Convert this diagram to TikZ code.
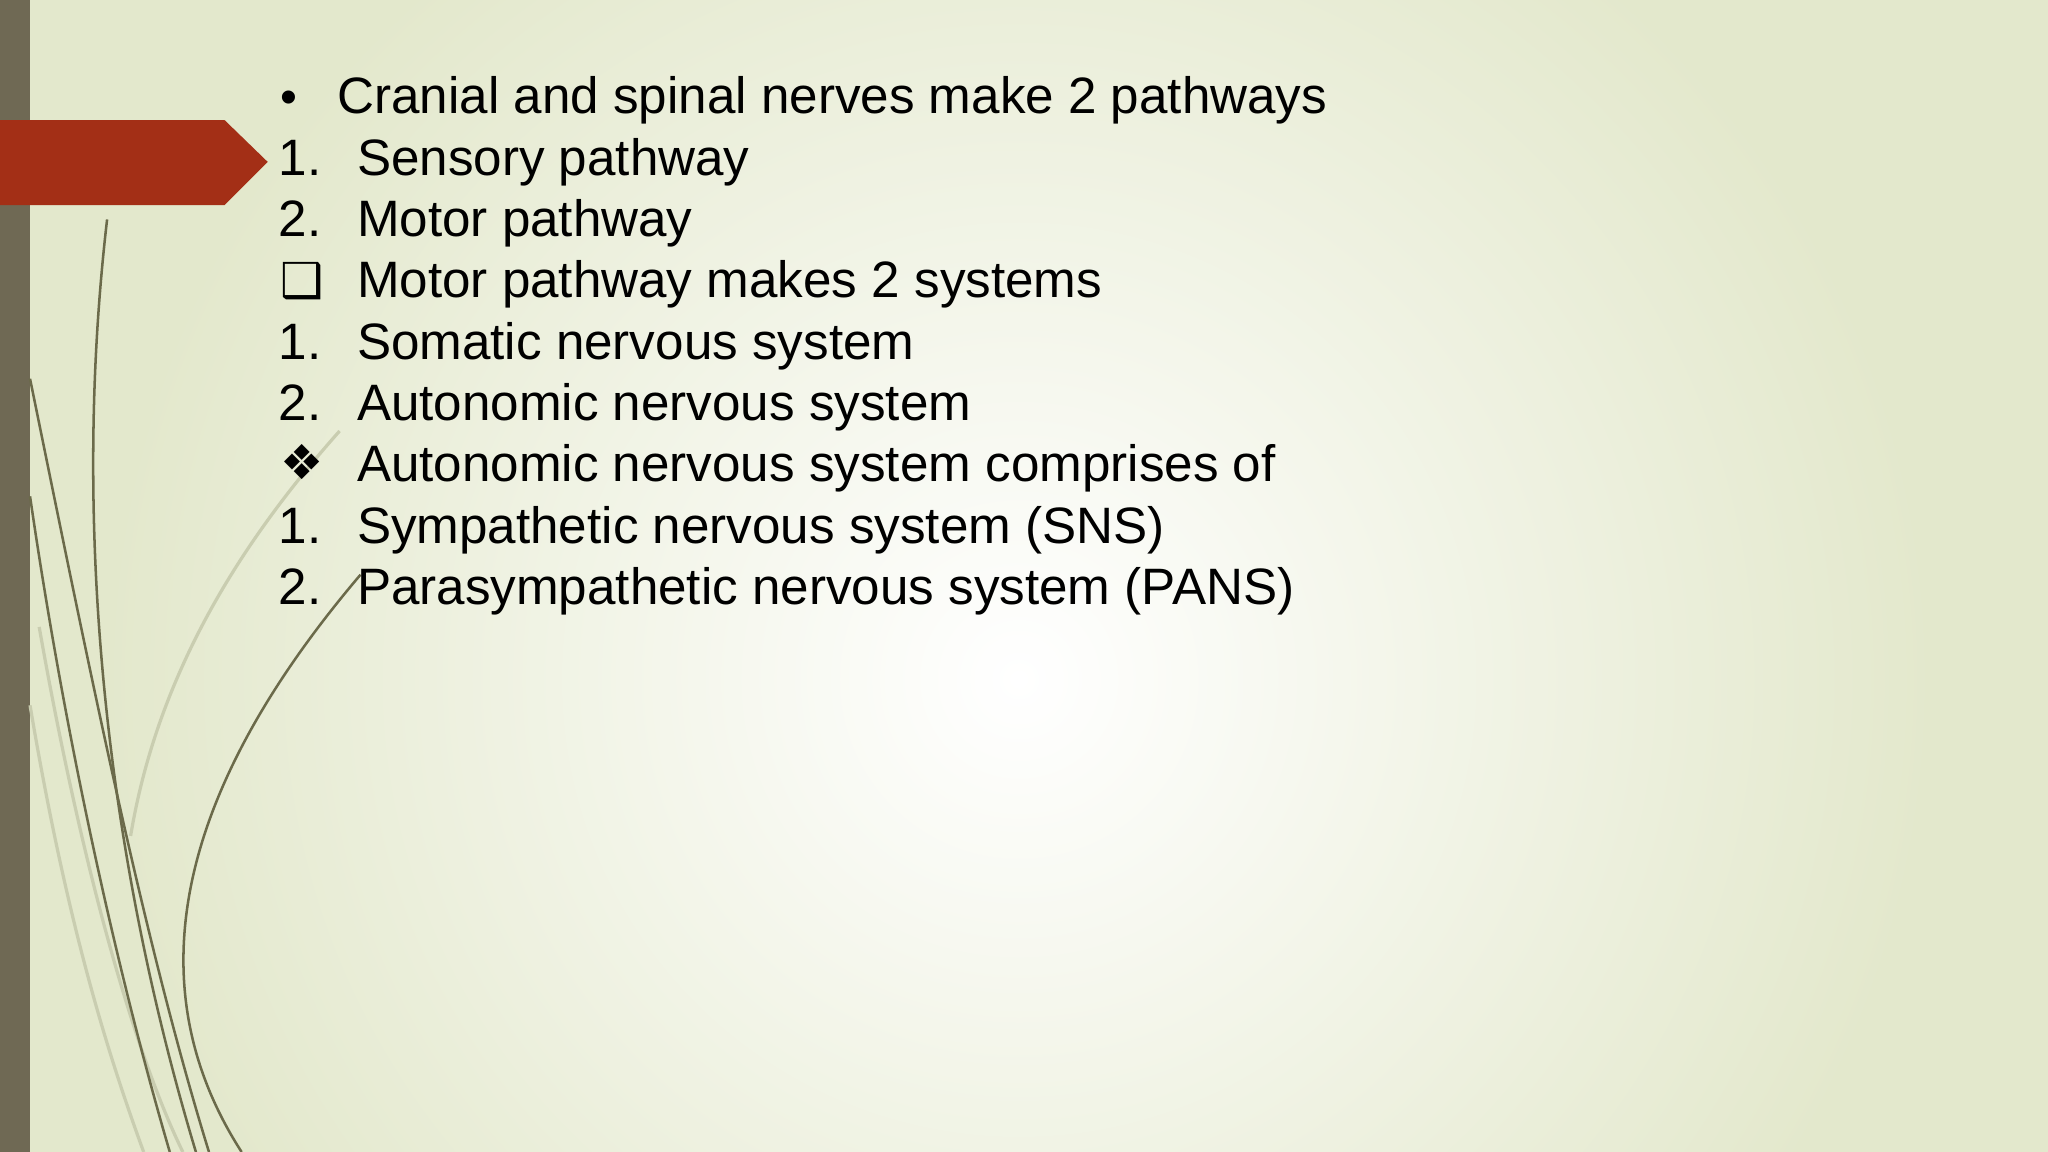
\documentclass[tikz,border=0pt]{standalone}
\usepackage{fontspec}
\setmainfont{Liberation Sans}
\newfontfamily\symf{DejaVu Sans}
\definecolor{bgout}{HTML}{E3E8CC}
\definecolor{barc}{HTML}{6F6954}
\definecolor{redc}{HTML}{A32F16}
\definecolor{linec}{HTML}{6B6A4A}
\definecolor{linel}{HTML}{C9CDB0}
\begin{document}
\begin{tikzpicture}[x=0.02cm,y=-0.02cm,
  item/.style={anchor=base west,font=\fontsize{22.3}{26}\selectfont,inner sep=0pt},
  bmark/.style={anchor=base,font=\fontsize{21}{26}\selectfont,inner sep=0pt},
  curve/.style={draw=linec,line width=1.1pt},
  lcurve/.style={draw=linel,line width=1.4pt}]
\useasboundingbox (0,0) rectangle (1568,882);
\fill[bgout] (0,0) rectangle (1568,882);
\shade[inner color=white,outer color=bgout] (780,520) circle (700);
\fill[barc] (0,0) rectangle (23,882);
% curves
\draw[lcurve] (30,480) .. controls (60,650) and (100,800) .. (140,882);
\draw[lcurve] (100,640) .. controls (120,520) and (180,420) .. (260,330);
\draw[lcurve] (23,540) .. controls (50,700) and (80,800) .. (110,882);
\draw[curve] (23,290) .. controls (70,520) and (110,720) .. (160,882);
\draw[curve] (82,168) .. controls (55,400) and (80,650) .. (150,882);
\draw[curve] (276,440) .. controls (140,600) and (100,750) .. (185,882);
\draw[curve] (23,380) .. controls (55,600) and (100,780) .. (130,882);
% red arrow
\fill[redc] (0,92) -- (172,92) -- (205,124) -- (172,157) -- (0,157) -- cycle;
% text
\node[bmark] (m0) at (221,87) {•};
\node[item] (t0) at (258,87) {Cranial and spinal nerves make 2 pathways};
\node[item] (m1) at (213,134) {1.};
\node[item] (t1) at (273,134) {Sensory pathway};
\node[item] (m2) at (213,181) {2.};
\node[item] (t2) at (273,181) {Motor pathway};
\node[bmark] (m3) at (231,228) {\symf\bfseries ❑};
\node[item] (t3) at (273,228) {Motor pathway makes 2 systems};
\node[item] (m4) at (213,275) {1.};
\node[item] (t4) at (273,275) {Somatic nervous system};
\node[item] (m5) at (213,322) {2.};
\node[item] (t5) at (273,322) {Autonomic nervous system};
\node[bmark] (m6) at (231,367) {\symf ❖};
\node[item] (t6) at (273,369) {Autonomic nervous system comprises of};
\node[item] (m7) at (213,416) {1.};
\node[item] (t7) at (273,416) {Sympathetic nervous system (SNS)};
\node[item] (m8) at (213,463) {2.};
\node[item] (t8) at (273,463) {Parasympathetic nervous system (PANS)};
\end{tikzpicture}
\end{document}
